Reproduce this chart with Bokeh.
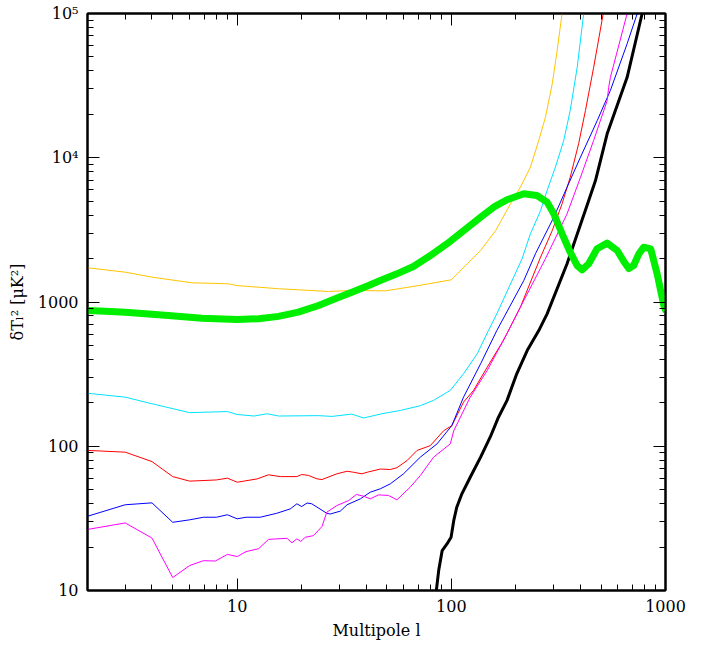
from bokeh.plotting import figure
from bokeh.models import FixedTicker, LogAxis, CustomJSTickFormatter
from bokeh.embed import file_html
from bokeh.resources import INLINE

# ---- data ----
green_l = [2, 2.42, 3, 3.72, 4.77, 6.84, 10, 12.6, 15.6, 19.3, 24, 28.7, 34.3, 41.1, 46.6, 55.7, 66.5, 79.8,
           95.6, 114.4, 136.9, 157.6, 182, 218, 251, 280, 301, 329, 359, 387, 408, 438, 479, 534, 595, 640, 674,
           710, 750, 792, 853, 914, 982, 1000]
green_v = [873, 863, 850, 828, 806, 772, 757, 765, 795, 850, 946, 1052, 1170, 1300, 1410, 1567, 1762, 2100,
           2535, 3133, 3873, 4543, 5116, 5623, 5470, 4925, 4083, 2972, 2213, 1790, 1671, 1841, 2337, 2560, 2275,
           1900, 1706, 1790, 2150, 2399, 2337, 1567, 946, 880]

black_l = [85.1, 87.3, 90.6, 95.6, 99.7, 102.6, 106, 112, 122.5, 137, 152, 166, 182, 202, 226, 256, 280, 347,
           438, 471, 534, 662, 778]
black_v = [10, 13.8, 18.9, 21.1, 23.4, 30.5, 37.8, 46.8, 61, 84, 116, 159, 208, 318, 461, 634, 828, 1841,
           5060, 6950, 14650, 36100, 100000]

yellow_l = [2, 3, 4, 6.14, 9.1, 10, 15.6, 26.7, 34.3, 49.2, 66.4, 100, 137, 161, 189, 210, 234, 256, 275, 296,
            312, 329]
yellow_v = [1726, 1610, 1487, 1359, 1337, 1300, 1236, 1183, 1202, 1195, 1282, 1425, 2275, 3130, 4800, 6250,
            8600, 13200, 19100, 32600, 55500, 100000]

cyan_l = [2, 3, 4, 6, 9, 10, 12, 13.8, 15.6, 24, 27.7, 34.3, 38.9, 47.4, 57.8, 71.6, 82.6, 98.9, 114, 132, 149,
          163, 214, 234, 261, 280, 306, 335, 359, 387, 415]
cyan_v = [233, 219, 197, 171, 174, 166, 162, 168, 162, 163, 161, 167, 157, 168, 177, 191, 208, 244, 318, 437, 634,
          828, 1995, 2972, 4300, 5930, 8600, 13200, 21300, 42400, 100000]

red_l = [2, 3, 4, 5, 6, 8, 9, 10, 12.4, 14, 15.9, 19, 20, 21.5, 23.6, 24.9, 29.2, 32.6, 35, 38.2, 40.4, 46.6,
         51.9, 55.7, 62.1, 69.2, 79.8, 92, 100.5, 114, 127, 147, 175, 210, 261, 296, 329, 359, 393, 423, 462, 512]
red_v = [93.6, 91, 78.3, 61.6, 57.3, 58.4, 60.1, 56.3, 59.4, 63.4, 61.6, 61.6, 63.7, 62.8, 59.4, 58.8, 64.4, 67.1,
         66, 64.4, 66, 69.5, 69, 71, 79.6, 93.6, 101, 128, 139, 202, 244, 353, 541, 920, 2046, 3130, 4800, 7330,
         12500, 21300, 42400, 100000]

blue_l = [2, 3, 4, 5, 6, 6.96, 8, 9, 10, 11, 12.8, 15.3, 17.7, 19, 20, 21.2, 22.3, 26.2, 27.2, 30.3, 32.6, 37.6,
          41.8, 46.6, 51.9, 59.8, 71.6, 85.8, 100.5, 114, 137, 163, 218, 247, 301, 347, 401, 480, 553, 662, 738]
blue_v = [32.7, 39.3, 40.5, 29.7, 30.9, 32.2, 32.2, 33.5, 31.4, 32.2, 32.2, 34.3, 36.8, 39.9, 38.2, 40.4, 39.9,
          34.3, 33.9, 35.5, 39.3, 43.2, 48, 50.7, 54.9, 64.4, 84, 104, 139, 219, 373, 634, 1410, 2160, 3873, 6250,
          10100, 18100, 29300, 61700, 100000]

mag_l = [2, 3, 4, 5, 6, 6.96, 7.9, 9, 10, 11, 12.6, 14, 15.3, 17.1, 18, 19, 19.8, 20.8, 22.7, 24.9, 26.2, 29.2,
         33.2, 36, 38.8, 41.8, 45.7, 50.9, 55.7, 64.2, 71.6, 82.6, 98.9, 102.6, 122.5, 147, 185, 210, 275, 347,
         401, 462, 534, 543, 553, 662]
mag_v = [26.5, 29.4, 23.1, 12.3, 14.9, 16.1, 16, 17.8, 17.2, 18.6, 19.5, 22.6, 22.8, 23.0, 21.4, 22.8, 21.9, 23.4,
         24.0, 27.8, 34.9, 38.8, 42.1, 46.3, 45.1, 43.2, 46, 45.6, 42.5, 52, 62.6, 84, 104, 128, 219, 335, 634, 920,
         1995, 4083, 7330, 13200, 24900, 30800, 36100, 100000]

x_major = [10, 100, 1000]
x_labels = ["10", "100", "1000"]
x_minor = [2, 3, 4, 5, 6, 7, 8, 9, 20, 30, 40, 50, 60, 70, 80, 90, 200, 300, 400, 500, 600, 700, 800, 900]
y_major = [10, 100, 1000, 10000, 100000]
y_labels = ["10", "100", "1000", "10\u2074", "10\u2075"]
y_minor = [m * d for d in [10, 100, 1000, 10000] for m in range(2, 10)]

FONT = "DejaVu Serif"

p = figure(x_axis_type="log", y_axis_type="log", x_range=(2, 1000), y_range=(10, 100000),
           frame_width=578, frame_height=577, output_backend="svg", toolbar_location=None,
           min_border_left=87, min_border_right=52, min_border_top=13, min_border_bottom=55,
           background_fill_color="white", border_fill_color="white")
p.xgrid.visible = False
p.ygrid.visible = False
p.outline_line_color = "black"
p.outline_line_width = 2

def style_axis(ax, ticks, minor, labels, show):
    ax.ticker = FixedTicker(ticks=ticks, minor_ticks=minor)
    ax.axis_line_color = "black"
    ax.axis_line_width = 2
    ax.major_tick_in = 12
    ax.major_tick_out = 0
    ax.minor_tick_in = 6
    ax.minor_tick_out = 0
    ax.major_tick_line_color = "black"
    ax.minor_tick_line_color = "black"
    ax.major_tick_line_width = 1
    ax.minor_tick_line_width = 1
    if show:
        ax.major_label_overrides = {float(t): s for t, s in zip(ticks, labels)}
        ax.major_label_text_font = FONT
        ax.major_label_text_font_size = "16px"
        ax.major_label_text_color = "black"
        ax.major_label_standoff = 9
        ax.axis_label_text_font = FONT
        ax.axis_label_text_font_size = "16px"
        ax.axis_label_text_font_style = "normal"
        ax.axis_label_text_color = "black"
    else:
        ax.formatter = CustomJSTickFormatter(code="return ''")
        ax.major_label_text_font_size = "0px"

style_axis(p.xaxis[0], x_major, x_minor, x_labels, True)
style_axis(p.yaxis[0], y_major, y_minor, y_labels, True)
p.xaxis[0].axis_label = "Multipole l"
p.xaxis[0].axis_label_standoff = 6
p.yaxis[0].axis_label = "\u03b4T\u2097\u00b2 [\u03bcK\u00b2]"
p.yaxis[0].axis_label_standoff = 8

top = LogAxis()
right = LogAxis()
style_axis(top, x_major, x_minor, x_labels, False)
style_axis(right, y_major, y_minor, y_labels, False)
p.add_layout(top, "above")
p.add_layout(right, "right")

p.line(yellow_l, yellow_v, line_color="#FFC400", line_width=1)
p.line(cyan_l, cyan_v, line_color="#00E1FF", line_width=1)
p.line(red_l, red_v, line_color="#FF0000", line_width=1)
p.line(blue_l, blue_v, line_color="#0000FF", line_width=1)
p.line(mag_l, mag_v, line_color="#FF00FF", line_width=1)
p.line(black_l, black_v, line_color="black", line_width=3, line_join="round")
p.line(green_l, green_v, line_color="#00EE00", line_width=7, line_join="round", line_cap="round")

open("out.html", "w").write(file_html(p, INLINE))
